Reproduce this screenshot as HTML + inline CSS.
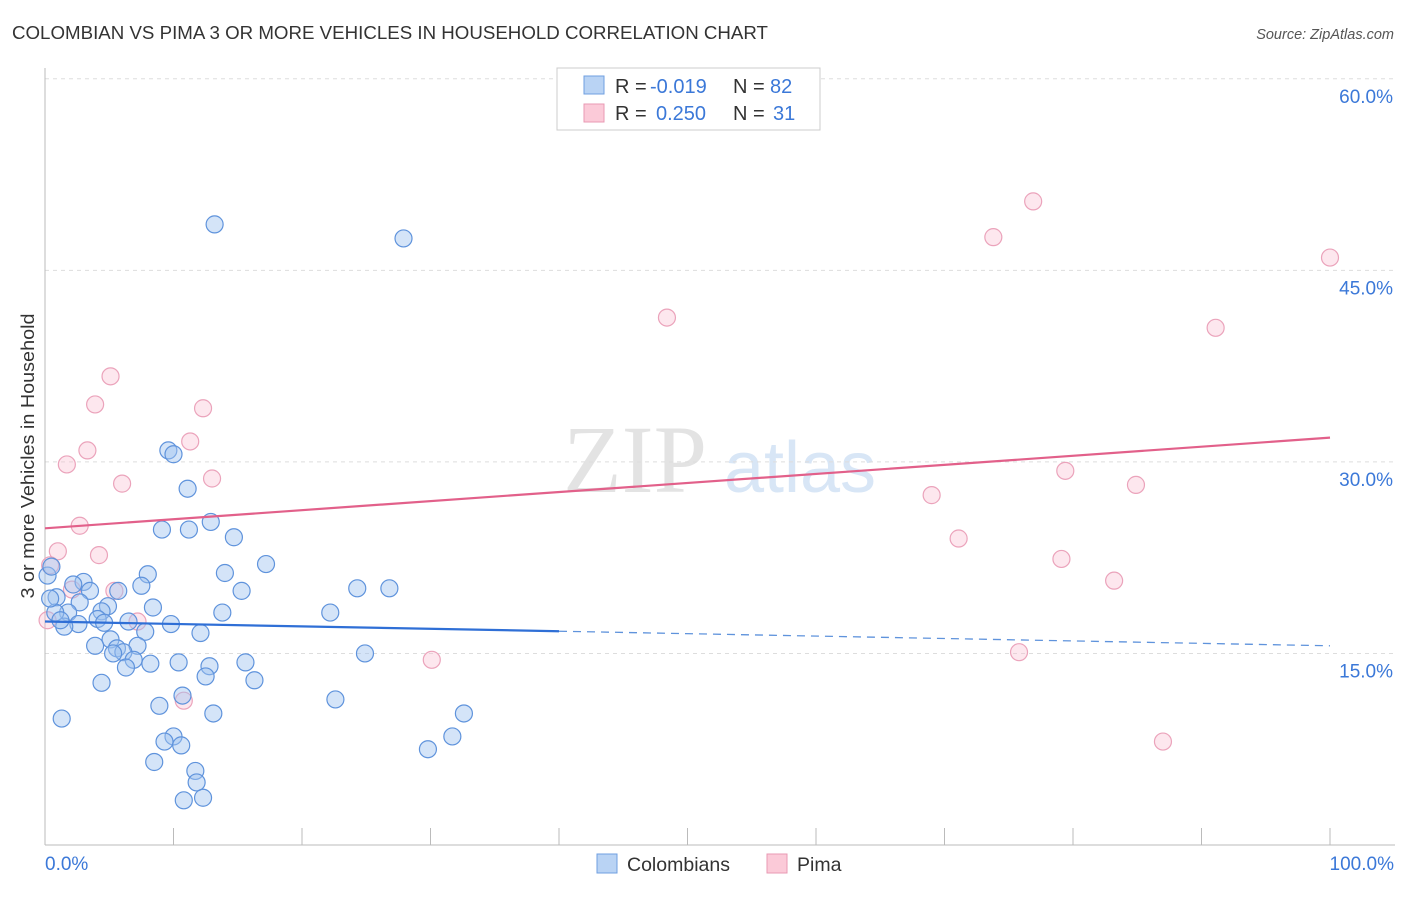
<!DOCTYPE html>
<html><head><meta charset="utf-8"><style>
body{margin:0;background:#fff;font-family:"Liberation Sans",sans-serif}
</style></head><body>
<svg id="chart" width="1406" height="892" xmlns="http://www.w3.org/2000/svg" font-family="Liberation Sans, sans-serif">
<text x="12" y="39" font-size="18" fill="#333" textLength="756" lengthAdjust="spacingAndGlyphs">COLOMBIAN VS PIMA 3 OR MORE VEHICLES IN HOUSEHOLD CORRELATION CHART</text>
<text x="1394" y="39" font-size="14.5" fill="#555" font-style="italic" text-anchor="end">Source: ZipAtlas.com</text>
<g><text x="635" y="492" font-size="96" fill="#ddd" font-family="Liberation Serif, serif" text-anchor="middle" opacity="0.8">ZIP</text><text x="800" y="492" font-size="72" fill="#cfe0f4" text-anchor="middle" opacity="0.8">atlas</text></g>
<g id="grid"></g><g id="axes"></g><g id="marks"></g>
<text transform="translate(34,456) rotate(-90)" font-size="18" fill="#333" text-anchor="middle" textLength="285" lengthAdjust="spacingAndGlyphs">3 or more Vehicles in Household</text>
<g font-size="20">
<rect x="557" y="68" width="263" height="62" fill="#fff" stroke="#ccc"/>
<rect x="584" y="76" width="20" height="18" fill="#b9d3f4" stroke="#6f9fe0"/>
<rect x="584" y="104" width="20" height="18" fill="#fbcad8" stroke="#e899b3"/>
<text x="615" y="93" fill="#333">R =</text><text x="650" y="93" fill="#3b78d8">-0.019</text><text x="733" y="93" fill="#333">N =</text><text x="770" y="93" fill="#3b78d8">82</text>
<text x="615" y="120" fill="#333">R =</text><text x="656" y="120" fill="#3b78d8">0.250</text><text x="733" y="120" fill="#333">N =</text><text x="773" y="120" fill="#3b78d8">31</text>
</g>
<g>
<rect x="597" y="854" width="20" height="19" fill="#b9d3f4" stroke="#6f9fe0"/>
<text x="627" y="871" font-size="19.5" fill="#333">Colombians</text>
<rect x="767" y="854" width="20" height="19" fill="#fbcad8" stroke="#e899b3"/>
<text x="797" y="871" font-size="19.5" fill="#333">Pima</text>
</g>
</svg>
<script>
const yTicks=[15,30,45,60];
const yTickLabels=["15.0%","30.0%","45.0%","60.0%"];
const xTickLabels=["0.0%","100.0%"];
const blueX=[13.2,27.9,9.6,10.0,11.1,12.9,9.1,11.2,14.7,17.2,8.0,14.0,24.3,26.8,15.3,7.5,3.0,2.2,3.5,5.7,0.9,2.7,4.9,8.4,13.8,22.2,1.8,4.4,0.8,4.1,6.5,9.8,2.6,1.5,4.6,7.8,12.1,5.1,3.9,7.2,5.6,6.1,5.3,24.9,6.9,8.2,10.4,12.8,15.6,6.3,12.5,16.3,4.4,10.7,22.6,8.9,13.1,32.6,1.3,31.7,10.0,9.3,10.6,29.8,8.5,11.7,11.8,10.8,12.3,0.2,0.4,1.2,0.5];
const blueY=[48.6,47.5,30.9,30.6,27.9,25.3,24.7,24.7,24.1,22.0,21.2,21.3,20.1,20.1,19.9,20.3,20.6,20.4,19.9,19.9,19.4,19.0,18.7,18.6,18.2,18.2,18.2,18.3,18.2,17.7,17.5,17.3,17.3,17.1,17.4,16.7,16.6,16.1,15.6,15.6,15.4,15.1,15.0,15.0,14.5,14.2,14.3,14.0,14.3,13.9,13.2,12.9,12.7,11.7,11.4,10.9,10.3,10.3,9.9,8.5,8.5,8.1,7.8,7.5,6.5,5.8,4.9,3.5,3.7,21.1,19.3,17.6,21.8];
const pinkX=[76.9,73.8,48.4,100,91.1,5.1,3.9,12.3,3.3,11.3,1.7,6.0,13.0,69.0,79.4,84.9,2.7,71.1,1.0,4.2,79.1,83.2,5.4,2.1,7.2,30.1,75.8,10.8,87.0,0.4,0.2];
const pinkY=[50.4,47.6,41.3,46.0,40.5,36.7,34.5,34.2,30.9,31.6,29.8,28.3,28.7,27.4,29.3,28.2,25.0,24.0,23.0,22.7,22.4,20.7,19.9,20.0,17.5,14.5,15.1,11.3,8.1,21.9,17.6];
const blueTrend=[17.5,15.6];
const pinkTrend=[24.8,31.9];
const NS="http://www.w3.org/2000/svg";
const X0=45,X1=1330,Y0=845,PY=12.77;
const sx=v=>X0+v*(X1-X0)/100;
const sy=v=>Y0-v*PY;
function mk(t,a,p){const e=document.createElementNS(NS,t);for(const k in a)e.setAttribute(k,a[k]);document.getElementById(p).appendChild(e);return e;}
yTicks.forEach((t,i)=>{
 const g=mk('line',{x1:45,x2:1395,y1:sy(t),y2:sy(t),stroke:'#ddd','stroke-dasharray':'4,4'},'grid');
 
 
 const l=mk('text',{x:1393,y:sy(t)+24,'font-size':19,fill:'#3b78d8','text-anchor':'end'},'axes');
 l.textContent=yTickLabels[i];
 
 
});
let a=mk('line',{x1:45,x2:45,y1:68,y2:845,stroke:'#bbb'},'axes');


a=mk('line',{x1:45,x2:1395,y1:845,y2:845,stroke:'#bbb'},'axes');


for(let i=1;i<=10;i++){const t=mk('line',{x1:sx(i*10),x2:sx(i*10),y1:828,y2:845,stroke:'#bbb'},'axes');
 
 }
[[0,'start',45],[100,'end',1394]].forEach((d,i)=>{const t=mk('text',{x:d[2],y:870,'font-size':19,fill:'#3b78d8','text-anchor':d[1]},'axes');t.textContent=xTickLabels[i];
 
 });
pinkX.forEach((x,i)=>{const c=mk('circle',{cx:sx(x),cy:sy(pinkY[i]),r:8.5,fill:'rgba(248,185,205,0.35)',stroke:'#eba3bb','stroke-width':1.2},'marks');
 
 });
blueX.forEach((x,i)=>{const c=mk('circle',{cx:sx(x),cy:sy(blueY[i]),r:8.5,fill:'rgba(160,195,240,0.45)',stroke:'#5f93dc','stroke-width':1.2},'marks');
 
 });
const bm=blueTrend[0]+(blueTrend[1]-blueTrend[0])*0.4;
let t=mk('line',{x1:sx(0),y1:sy(blueTrend[0]),x2:sx(40),y2:sy(bm),stroke:'#2f6fd6','stroke-width':2.2},'marks');


t=mk('line',{x1:sx(40),y1:sy(bm),x2:sx(100),y2:sy(blueTrend[1]),stroke:'#5f93dc','stroke-width':1.3,'stroke-dasharray':'8,6'},'marks');


t=mk('line',{x1:sx(0),y1:sy(pinkTrend[0]),x2:sx(100),y2:sy(pinkTrend[1]),stroke:'#e2608a','stroke-width':2.2},'marks');


</script>
</body></html>
